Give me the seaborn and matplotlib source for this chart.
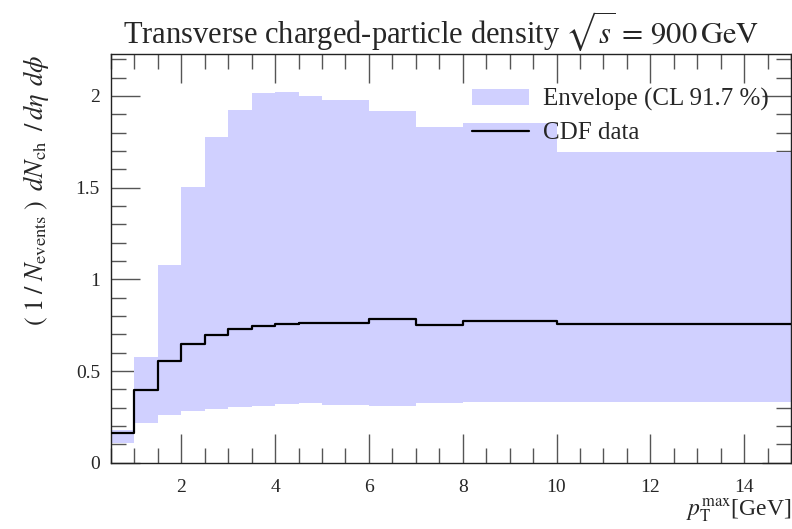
import numpy as np
import pandas as pd
import seaborn as sns
import matplotlib
matplotlib.use("Agg")
import matplotlib.pyplot as plt
from matplotlib.ticker import MultipleLocator
from matplotlib.patches import Patch
from matplotlib.lines import Line2D

# ---- data ----
bin_edges = [0.5, 1.0, 1.5, 2.0, 2.5, 3.0, 3.5, 4.0, 4.5, 5.0, 6.0, 7.0, 8.0, 10.0, 15.0]
cdf_data = [0.160, 0.396, 0.555, 0.645, 0.696, 0.731, 0.745, 0.754, 0.760, 0.764,
            0.782, 0.749, 0.771, 0.756]
env_upper = [0.178, 0.578, 1.078, 1.505, 1.774, 1.923, 2.014, 2.021, 1.999, 1.978,
             1.918, 1.829, 1.855, 1.693]
env_lower = [0.106, 0.218, 0.260, 0.284, 0.293, 0.305, 0.307, 0.318, 0.324, 0.315,
             0.311, 0.324, 0.329, 0.329]
x_ticks = [2, 4, 6, 8, 10, 12, 14]
y_ticks = [0, 0.5, 1, 1.5, 2]
y_tick_labels = ["0", "0.5", "1", "1.5", "2"]

sns.set_theme(style="ticks")
plt.rcParams["font.family"] = ["Liberation Serif", "DejaVu Serif"]
plt.rcParams["mathtext.fontset"] = "stix"

fig = plt.figure(figsize=(7.92, 5.29), dpi=100)
ax = fig.add_axes([0.1402, 0.1253, 0.8585, 0.7721])

band_color = "#d0d0ff"
ax.stairs(env_upper, bin_edges, baseline=env_lower, fill=True, color=band_color,
          linewidth=0, zorder=1)

df = pd.DataFrame({"x": bin_edges, "y": cdf_data + [cdf_data[-1]]})
sns.lineplot(data=df, x="x", y="y", ax=ax, color="black", linewidth=1.6,
             drawstyle="steps-post", zorder=3)

ax.set_xlim(0.5, 15)
ax.set_ylim(0, 2.227)
ax.set_xticks(x_ticks)
ax.set_xticklabels([str(t) for t in x_ticks])
ax.set_yticks(y_ticks)
ax.set_yticklabels(y_tick_labels)
ax.xaxis.set_minor_locator(MultipleLocator(0.5))
ax.yaxis.set_minor_locator(MultipleLocator(0.1))
ax.tick_params(which="both", direction="in", top=True, right=True,
               color="#555555", labelsize=14)
ax.tick_params(axis="x", which="major", length=21, width=1.0, pad=12)
ax.tick_params(axis="y", which="major", length=21, width=1.0, pad=8)
ax.tick_params(which="minor", length=10.5, width=1.0)
for s in ax.spines.values():
    s.set_color("#222222")
    s.set_linewidth(1.0)

ax.set_xlabel(r"$p_{\mathrm{T}}^{\mathrm{max}}$[GeV]", fontsize=17, loc="right", labelpad=0)
ax.set_ylabel(r"$(\;1\;/\;N_{\mathrm{events}}\;)\;\;dN_{\mathrm{ch}}\;\;/\,d\eta\;\,d\phi$",
              fontsize=19, loc="top", labelpad=18)
ax.set_title(r"Transverse charged-particle density $\sqrt{s}\,=\,900\,\mathrm{GeV}$",
             fontsize=22, pad=8, x=0.485)

handles = [Patch(facecolor=band_color, edgecolor="none"),
           Line2D([], [], color="black", linewidth=1.6)]
ax.legend(handles, ["Envelope (CL 91.7 %)", "CDF data"], loc="upper right",
          bbox_to_anchor=(0.967, 0.918), frameon=False, fontsize=18, handlelength=2.3,
          handleheight=0.6, handletextpad=0.55, labelspacing=0.45, borderaxespad=0.0,
          borderpad=0.0)

fig.savefig("out.png", dpi=100)
